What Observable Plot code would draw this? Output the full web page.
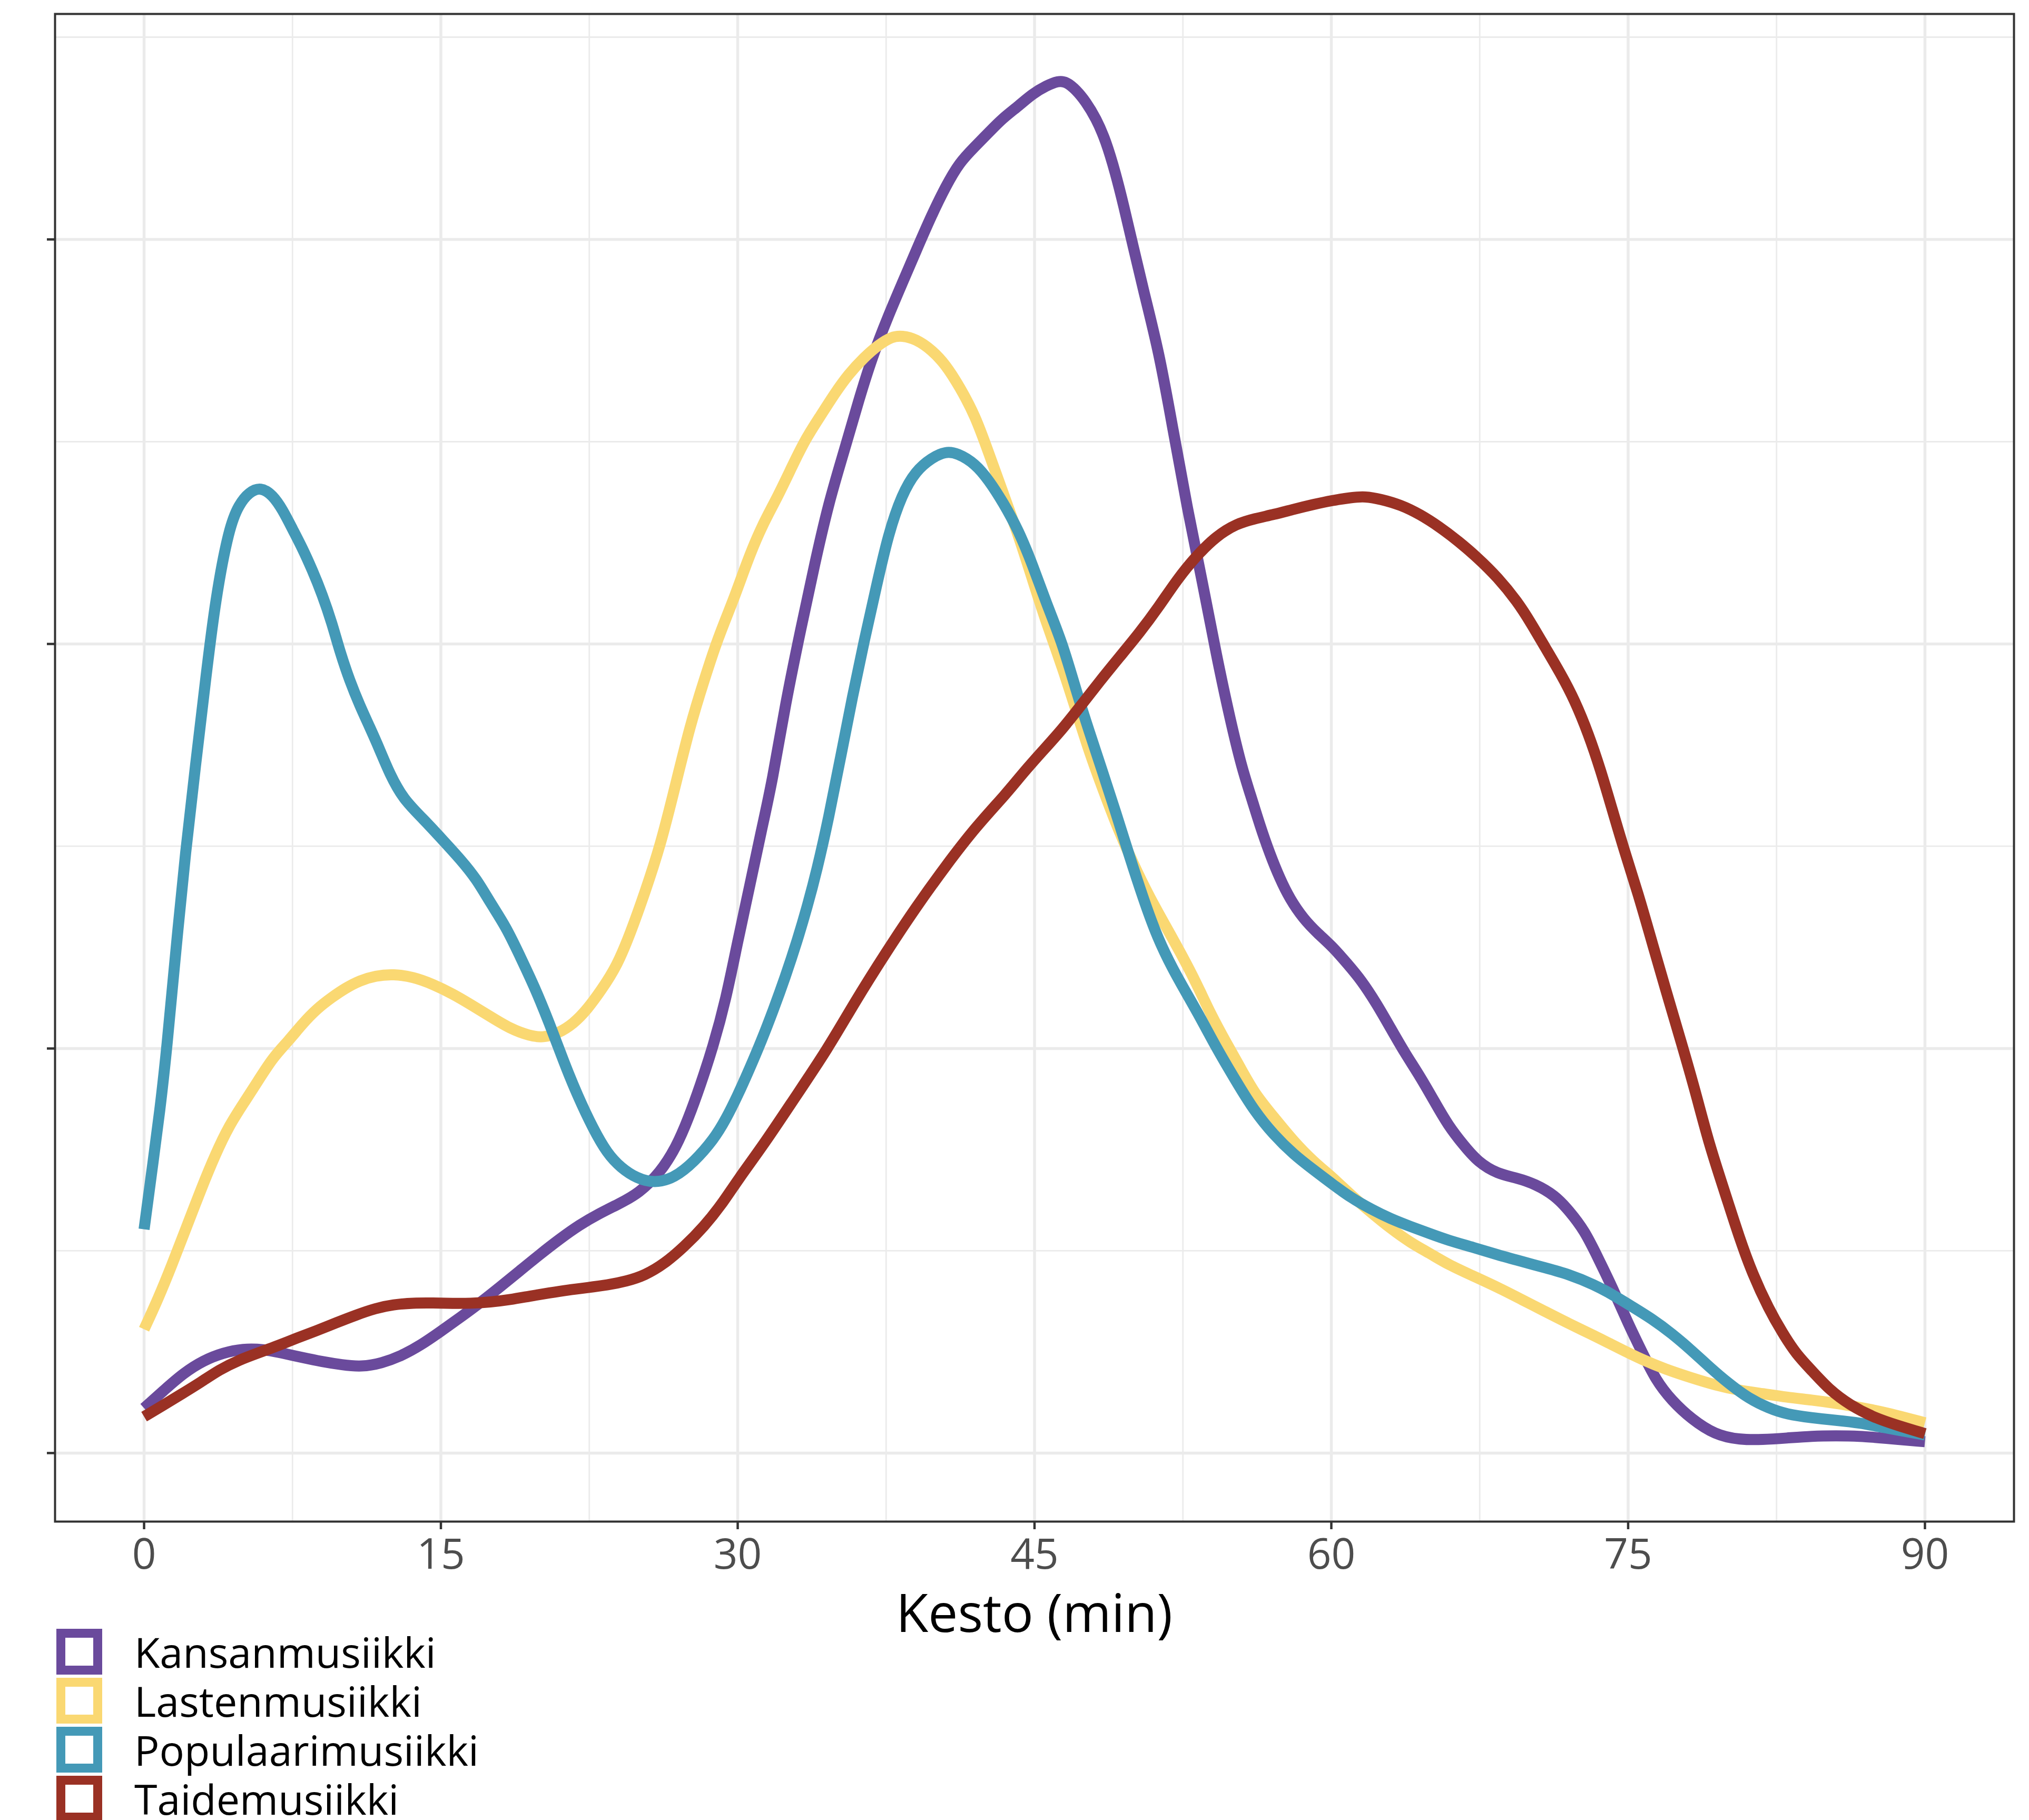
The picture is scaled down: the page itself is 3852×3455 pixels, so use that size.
<!DOCTYPE html>
<html><head><meta charset="utf-8">
<script src="https://cdn.jsdelivr.net/npm/d3@7"></script>
<script src="https://cdn.jsdelivr.net/npm/@observablehq/plot@0.6"></script>
<style>
html,body{margin:0;padding:0;background:#fff;}
#wrap{position:relative;width:3852px;height:3455px;overflow:hidden;font-family:"Open Sans",sans-serif;background:#fff;}
#chart{position:absolute;left:0;top:0;}
#xlabel{position:absolute;left:104px;width:3719px;top:3009px;text-align:center;font-size:100px;line-height:100px;color:#000;}
.leg{position:absolute;left:107px;height:87px;display:flex;align-items:center;}
.sw{width:87px;height:87px;box-sizing:border-box;border:17px solid;background:#fff;flex:none;}
.lt{margin-left:61px;font-size:79px;line-height:87px;color:#000;white-space:nowrap;}
</style></head><body><div id="wrap"><div id="chart"></div><div id="xlabel">Kesto (min)</div><div id="legend"></div></div>
<script>
const categories = ["Kansanmusiikki","Lastenmusiikki","Populaarimusiikki","Taidemusiikki"];
const colors = ["#6A4A9C","#FAD872","#4499B7","#9A3124"];
const xTicks = [0,15,30,45,60,75,90];
const xMinor = [7.5,22.5,37.5,52.5,67.5,82.5];
const yTicks = [0,1,2,3];
const yMinor = [0.5,1.5,2.5,3.5];

// [kesto (min), tiheys (x0.01)]
const kansan = [[0,0.111],[1,0.155],[2,0.198],[3,0.229],[4,0.248],[5,0.258],[6,0.257],[7,0.247],[8,0.236],[9,0.226],[10,0.218],[11,0.213],[12,0.222],[13,0.240],[14,0.267],[15,0.301],[16,0.336],[17,0.372],[18,0.411],[19,0.451],[20,0.491],[21,0.529],[22,0.564],[23,0.592],[24,0.616],[25,0.642],[26.1,0.694],[26.9,0.757],[27.5,0.826],[28.1,0.907],[28.75,1.004],[29.4,1.12],[30,1.265],[30.6,1.40],[31.2,1.54],[31.75,1.66],[32.4,1.85],[33.2,2.04],[33.9,2.20],[34.6,2.35],[35.4,2.48],[36.1,2.60],[36.8,2.71],[37.6,2.81],[38.3,2.89],[39,2.97],[39.8,3.06],[40.5,3.13],[41.2,3.19],[42,3.23],[42.7,3.265],[43.4,3.30],[44.2,3.33],[44.9,3.36],[45.6,3.38],[46.2,3.392],[46.6,3.39],[47.1,3.37],[47.6,3.34],[48.1,3.30],[48.6,3.245],[49.1,3.163],[49.5,3.085],[50,2.98],[50.5,2.875],[51.3,2.72],[52,2.53],[52.7,2.34],[53.5,2.15],[54.2,1.97],[54.9,1.81],[55.5,1.69],[55.9,1.63],[56.4,1.55],[56.9,1.48],[57.4,1.42],[57.9,1.37],[58.6,1.32],[59.3,1.285],[60.1,1.25],[60.8,1.21],[61.5,1.17],[62.3,1.11],[63,1.05],[63.7,0.99],[64.5,0.93],[65.2,0.87],[65.9,0.81],[66.7,0.76],[67.4,0.72],[68.4,0.69],[69.4,0.68],[70.3,0.665],[71.3,0.637],[72,0.60],[72.8,0.55],[73.5,0.48],[74.2,0.41],[75,0.32],[75.7,0.25],[76.4,0.18],[77.2,0.13],[78.2,0.084],[79.4,0.045],[80.6,0.033],[81.8,0.033],[83,0.037],[84.3,0.042],[85.5,0.043],[86.7,0.042],[87.9,0.037],[90,0.028]];
const lasten = [[0,0.306],[0.7,0.38],[1.4,0.464],[2.1,0.553],[2.9,0.655],[3.6,0.738],[4.3,0.81],[5.1,0.87],[5.8,0.923],[6.5,0.977],[7.3,1.019],[8,1.061],[8.7,1.097],[9.5,1.127],[10.2,1.15],[10.9,1.168],[11.7,1.18],[12.6,1.184],[13.6,1.177],[14.6,1.159],[15.6,1.135],[16.5,1.109],[17.5,1.079],[18.5,1.049],[19.5,1.031],[20.2,1.027],[20.9,1.037],[21.7,1.061],[22.4,1.097],[23.1,1.144],[23.9,1.204],[24.6,1.288],[25.3,1.384],[26.1,1.503],[26.8,1.64],[27.6,1.80],[28.3,1.91],[29,2.015],[29.8,2.11],[30.5,2.207],[31.2,2.29],[32,2.362],[32.7,2.434],[33.4,2.505],[34.2,2.565],[34.9,2.619],[35.6,2.667],[36.4,2.709],[37.1,2.739],[37.8,2.76],[38.3,2.762],[39,2.754],[39.8,2.727],[40.5,2.691],[41.2,2.637],[42,2.565],[42.7,2.47],[43.4,2.375],[44.2,2.267],[44.9,2.159],[45.6,2.052],[46.4,1.944],[47.1,1.836],[47.8,1.728],[48.5,1.635],[49.2,1.545],[50,1.455],[50.8,1.375],[51.6,1.305],[52.4,1.235],[53.2,1.16],[53.9,1.085],[54.7,1.013],[55.4,0.953],[56.1,0.89],[57.1,0.83],[58.1,0.77],[59.1,0.72],[60.1,0.68],[61,0.637],[62,0.595],[63,0.555],[64,0.52],[65,0.493],[65.9,0.466],[67.2,0.437],[68.4,0.41],[69.6,0.38],[70.8,0.35],[72,0.32],[73.3,0.29],[74.5,0.26],[75.7,0.231],[76.9,0.207],[78.2,0.186],[79.4,0.168],[80.6,0.155],[81.8,0.147],[83,0.138],[84.3,0.131],[85.5,0.123],[86.7,0.113],[87.9,0.102],[90,0.075]];
const popul = [[0,0.553],[0.4,0.70],[0.8,0.846],[1.15,1.0],[1.6,1.24],[2.1,1.49],[2.6,1.70],[3.1,1.908],[3.6,2.11],[4.3,2.29],[4.8,2.345],[5.3,2.375],[5.9,2.388],[6.5,2.368],[7,2.332],[7.5,2.284],[8,2.237],[8.5,2.183],[9,2.123],[9.5,2.051],[9.9,1.98],[10.4,1.908],[10.9,1.848],[11.4,1.795],[11.9,1.74],[12.4,1.68],[13.1,1.616],[14.1,1.568],[15.1,1.515],[16,1.467],[16.8,1.419],[17.5,1.36],[18.3,1.30],[19,1.228],[19.7,1.156],[20.5,1.061],[21.2,0.968],[21.9,0.884],[22.7,0.801],[23.4,0.741],[24.1,0.705],[24.9,0.679],[25.8,0.667],[26.8,0.68],[27.8,0.72],[28.8,0.776],[29.4,0.825],[30,0.884],[30.6,0.95],[31.2,1.019],[31.8,1.095],[32.4,1.176],[33,1.265],[33.5,1.348],[34,1.44],[34.6,1.57],[35.2,1.72],[35.8,1.87],[36.4,2.01],[37,2.14],[37.6,2.27],[38.3,2.37],[39,2.428],[39.8,2.46],[40.5,2.476],[41.1,2.472],[42,2.446],[42.7,2.404],[43.4,2.351],[44.2,2.28],[44.9,2.196],[45.6,2.10],[46.4,2.004],[47.1,1.885],[47.8,1.778],[48.4,1.69],[49.1,1.585],[49.8,1.475],[50.5,1.37],[51.2,1.275],[52,1.195],[52.7,1.135],[53.4,1.075],[54.2,1.001],[55.2,0.918],[56.1,0.846],[57.1,0.786],[58.1,0.738],[59.1,0.70],[60.1,0.663],[61,0.631],[62,0.603],[63,0.579],[64,0.56],[65,0.542],[65.9,0.526],[67.2,0.508],[68.4,0.49],[69.6,0.474],[70.8,0.458],[72,0.442],[73.3,0.416],[74.2,0.392],[75.2,0.362],[76.2,0.332],[77.2,0.296],[78.2,0.254],[79.1,0.213],[80.1,0.171],[81.1,0.135],[82.1,0.111],[83,0.096],[84.3,0.087],[85.5,0.081],[86.7,0.075],[87.9,0.063],[90,0.045]];
const taide = [[0,0.09],[0.9,0.116],[1.9,0.146],[2.9,0.176],[3.8,0.206],[4.8,0.23],[5.8,0.248],[6.8,0.266],[7.7,0.284],[8.7,0.302],[9.7,0.322],[10.7,0.341],[11.7,0.358],[12.6,0.367],[13.6,0.371],[14.6,0.371],[15.6,0.37],[16.5,0.37],[17.5,0.373],[18.5,0.379],[19.5,0.388],[20.5,0.396],[21.4,0.403],[22.4,0.409],[23.4,0.415],[24.4,0.425],[25.3,0.439],[26.3,0.468],[27.3,0.51],[28.3,0.56],[29.2,0.615],[30,0.675],[31.35,0.765],[32.87,0.877],[34.56,1.0],[35.93,1.116],[37.46,1.235],[38.99,1.348],[40.52,1.452],[42.05,1.549],[43.58,1.63],[44.4,1.68],[45.4,1.735],[46.4,1.789],[47.35,1.848],[48.3,1.908],[49.3,1.968],[50.3,2.027],[51.3,2.093],[52.2,2.159],[53.2,2.219],[54.2,2.267],[55.2,2.297],[56.15,2.31],[57.1,2.32],[58.1,2.333],[59.1,2.345],[60.06,2.355],[61,2.362],[61.7,2.365],[62.5,2.358],[63.5,2.344],[64.5,2.32],[65.45,2.29],[66.4,2.255],[67.4,2.213],[68.4,2.165],[69.4,2.105],[70.1,2.051],[70.8,1.992],[71.6,1.926],[72.3,1.861],[73,1.777],[73.6,1.69],[74.2,1.59],[74.8,1.49],[75.5,1.384],[76.2,1.264],[76.9,1.145],[77.7,1.013],[78.4,0.894],[79.1,0.762],[79.9,0.643],[80.6,0.535],[81.3,0.441],[82.1,0.357],[82.8,0.297],[83.5,0.244],[84.3,0.203],[85.2,0.155],[86.2,0.119],[87.4,0.088],[88.7,0.067],[90,0.048]];

const seriesList = [kansan, lasten, popul, taide];
const rows = seriesList.flatMap((pts, i) => pts.map(([x, y]) => ({kategoria: categories[i], kesto: x, tiheys: y})));

const gridStyle = {stroke: "#EBEBEB", strokeOpacity: 1};
const chart = Plot.plot({
  width: 3852,
  height: 3000,
  marginLeft: 104,
  marginRight: 29,
  marginTop: 26,
  marginBottom: 112,
  style: {fontFamily: '"Open Sans", sans-serif', fontSize: "80px", background: "white", overflow: "visible"},
  x: {domain: [-4.5, 94.5]},
  y: {domain: [-0.1694, 3.5573]},
  color: {domain: categories, range: colors},
  marks: [
    Plot.gridX(xMinor, {...gridStyle, strokeWidth: 2.8}),
    Plot.gridY(yMinor, {...gridStyle, strokeWidth: 2.8}),
    Plot.gridX(xTicks, {...gridStyle, strokeWidth: 5.5}),
    Plot.gridY(yTicks, {...gridStyle, strokeWidth: 5.5}),
    Plot.line(rows, {x: "kesto", y: "tiheys", z: "kategoria", stroke: "kategoria", strokeWidth: 21, curve: "basis", strokeLinecap: "butt", strokeLinejoin: "round"}),
    Plot.frame({stroke: "#333333", strokeWidth: 4}),
    Plot.axisX(xTicks, {tickSize: 15, tickPadding: 18, stroke: "#333333", strokeWidth: 4.5, fill: "#4D4D4D", fontSize: 80, label: null}),
    Plot.axisY(yTicks, {tickSize: 15, tickFormat: () => "", stroke: "#333333", strokeWidth: 4.5, label: null})
  ]
});
document.getElementById("chart").appendChild(chart);

const legend = document.getElementById("legend");
categories.forEach((c, i) => {
  const item = document.createElement("div");
  item.className = "leg";
  item.style.top = (3092 + i * 93) + "px";
  const sw = document.createElement("div");
  sw.className = "sw";
  sw.style.borderColor = colors[i];
  const t = document.createElement("div");
  t.className = "lt";
  t.textContent = c;
  item.appendChild(sw);
  item.appendChild(t);
  legend.appendChild(item);
});
</script></body></html>
